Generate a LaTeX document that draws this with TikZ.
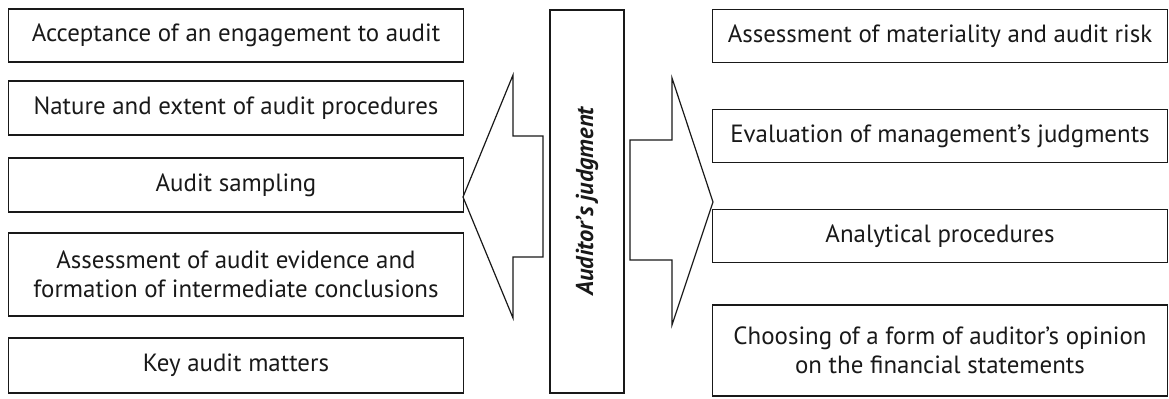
\documentclass[tikz,border=0pt]{standalone}
\usepackage{fontspec}
\setmainfont{PT Sans}
\begin{document}
\begin{tikzpicture}[x=1bp,y=-1bp,
  box/.style={draw=black!90, line width=1.6bp, minimum width=455bp, inner sep=0pt, align=center,
    font=\fontsize{25}{29}\selectfont, text=black!90},
  blockarrow/.style={draw=black!90, line width=1.2bp, line join=miter}]
\useasboundingbox (0,0) rectangle (1169,398);
% left column
\node[box, minimum height=53bp] (l1) at (236,35.5) {Acceptance of an engagement to audit};
\node[box, minimum height=54bp] (l2) at (236,108) {Nature and extent of audit procedures};
\node[box, minimum height=54bp] (l3) at (236,185) {Audit sampling};
\node[box, minimum height=83bp] (l4) at (236,274.5) {Assessment of audit evidence and\\formation of intermediate conclusions};
\node[box, minimum height=55bp] (l5) at (236,365.5) {Key audit matters};
% right column
\node[box, minimum height=53bp] (r1) at (940,36) {Assessment of materiality and audit risk};
\node[box, minimum height=53bp] (r2) at (940,136) {Evaluation of management’s judgments};
\node[box, minimum height=53bp] (r3) at (940,236) {Analytical procedures};
\node[box, minimum height=91bp] (r4) at (940,350.5) {Choosing of a form of auditor’s opinion\\on the financial statements};
% centre
\node[draw=black!90, line width=1.6bp, minimum width=74bp, minimum height=383bp, inner sep=0pt] (c) at (587,201.5) {};
\node[rotate=90, font=\fontsize{24.5}{29}\selectfont\bfseries\itshape, text=black!90] (ct) at (c.center) {Auditor’s judgment};
% block arrows
\coordinate (lt) at (463,197);
\coordinate (rt) at (713,202);
\draw[blockarrow] (lt) -- (513,75) -- (513,136) -- (543,136) -- (543,257) -- (513,257) -- (513,318) -- cycle;
\draw[blockarrow] (630,140) -- (672,140) -- (672,78) -- (rt) -- (672,325) -- (672,260) -- (630,260) -- cycle;
\end{tikzpicture}
\end{document}
